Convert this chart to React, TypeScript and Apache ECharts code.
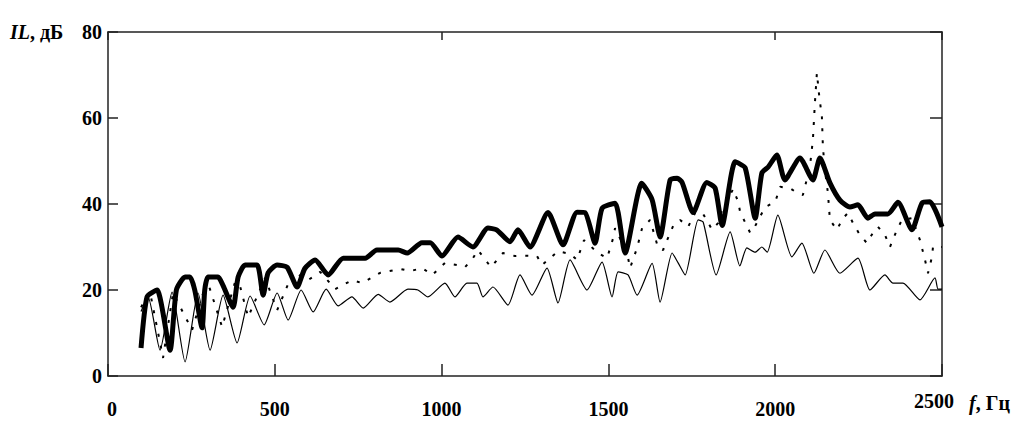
import React, { useEffect, useRef } from "react";
import * as echarts from "echarts";

// frequency (Hz), insertion loss (dB)
const thickSeries: [number, number][] = [
  [99, 6.5], [117, 18.4], [147, 20], [186, 6], [205, 20], [231, 23], [246, 23], [260, 20], [282, 11.2],
  [290, 20], [300, 23], [330, 23], [345, 21], [375, 16], [390, 23], [411, 25.8], [447, 25.8], [465, 18.8],
  [480, 24], [507, 25.8], [537, 25.3], [567, 20.7], [590, 25], [621, 27], [660, 23.5], [705, 27.4],
  [771, 27.4], [806, 29.3], [870, 29.3], [897, 28.6], [941, 31], [966, 31], [1001, 27.9], [1049, 32.3],
  [1094, 30], [1139, 34.4], [1165, 34], [1205, 31.2], [1229, 34], [1265, 30], [1319, 38], [1364, 30.5],
  [1406, 38.1], [1430, 38], [1460, 30.9], [1481, 39], [1520, 40.2], [1550, 28.6], [1600, 44.8],
  [1631, 41], [1655, 32.3], [1685, 45.6], [1706, 46], [1721, 45], [1754, 38], [1795, 45], [1820, 43.7],
  [1841, 35], [1880, 49.8], [1910, 48.4], [1940, 36.7], [1960, 47.2], [1979, 48.6], [2005, 51.4],
  [2029, 45.6], [2074, 50.7], [2113, 45.6], [2134, 50.7], [2164, 44.9], [2194, 40.9], [2224, 39.3],
  [2248, 39.8], [2278, 36.7], [2299, 37.7], [2338, 37.7], [2368, 40.4], [2410, 34], [2440, 40.2],
  [2464, 40.5], [2500, 34.7],
];

const dottedSeries: [number, number][] = [
  [99, 16], [126, 19.5], [165, 4.2], [195, 19.3], [252, 10.7], [297, 22.3], [342, 11.4], [387, 23.5],
  [420, 13.7], [471, 22.8], [507, 15.3], [555, 24.2], [600, 22.3], [636, 24.2], [681, 20.2], [732, 22.3],
  [762, 21.6], [816, 24], [876, 24.9], [906, 24.4], [942, 25.1], [972, 23.5], [1010, 26.3], [1046, 25.8],
  [1070, 25.3], [1094, 27.4], [1109, 29.3], [1148, 25.3], [1184, 28.6], [1220, 27.9], [1244, 28],
  [1286, 27.9], [1301, 25.8], [1325, 27.4], [1349, 29], [1385, 28.4], [1406, 27], [1427, 31.6],
  [1469, 28.6], [1496, 27.4], [1514, 32], [1520, 34.4], [1556, 28.6], [1565, 25.1], [1586, 29.8],
  [1601, 34.4], [1625, 36.3], [1649, 29.8], [1664, 29.3], [1676, 31.6], [1694, 34.9], [1715, 36.3],
  [1739, 34.7], [1760, 37.9], [1781, 38.1], [1811, 34], [1829, 35.6], [1841, 38.6], [1874, 43.5],
  [1889, 40.5], [1895, 38.1], [1925, 33.3], [1940, 34.9], [1970, 39.3], [2000, 40.5], [2015, 44],
  [2044, 43.7], [2065, 42.6], [2083, 42.1], [2104, 48.6], [2113, 54.9], [2119, 63.5], [2125, 70.5],
  [2131, 65.8], [2140, 60.2], [2143, 53.3], [2149, 47.9], [2158, 42.6], [2164, 36.3], [2185, 34],
  [2203, 36.7], [2218, 37.9], [2233, 35.6], [2254, 32.8], [2275, 30.9], [2293, 33.3], [2308, 34.7],
  [2329, 32.8], [2344, 30], [2365, 34], [2380, 36.3], [2410, 36.7], [2434, 31.6], [2449, 27],
  [2458, 23.9], [2470, 27.7], [2473, 30], [2500, 30],
];

const thinSeries: [number, number][] = [
  [99, 15], [120, 18.4], [156, 6], [192, 19.5], [231, 3.3], [270, 19.3], [306, 6], [345, 18.8],
  [387, 7.7], [426, 18.6], [468, 11.9], [507, 19.3], [540, 13], [579, 20], [615, 14.9], [654, 20.2],
  [690, 16.3], [731, 18.4], [765, 15.8], [810, 19], [845, 17.2], [899, 20.2], [929, 20], [959, 18.4],
  [1010, 21.6], [1040, 18.4], [1076, 21.6], [1106, 21.6], [1124, 18.4], [1154, 20.7], [1199, 16.5],
  [1235, 23.5], [1271, 18.8], [1316, 25.1], [1349, 17], [1385, 27], [1436, 20], [1481, 26.5],
  [1511, 18.4], [1529, 24.2], [1559, 23.5], [1586, 18.8], [1631, 26.2], [1655, 17.2], [1691, 28.6],
  [1709, 26.3], [1730, 23.5], [1769, 36.3], [1784, 35.8], [1823, 23.5], [1865, 33.5], [1894, 25.6],
  [1915, 29.8], [1940, 28.8], [1960, 30], [1976, 28.8], [2008, 37.4], [2050, 27.7], [2080, 30.9],
  [2116, 23.9], [2149, 29.3], [2194, 23.9], [2248, 27.4], [2284, 20], [2329, 23.5], [2353, 21.6],
  [2383, 21.6], [2434, 17.7], [2479, 22.8], [2488, 20.2], [2500, 20.2],
];

const xTicks = [0, 500, 1000, 1500, 2000, 2500];
const yTicks = [0, 20, 40, 60, 80];
const yTitleItalic = "IL";
const yTitleRest = ", дБ";
const xTitleItalic = "f";
const xTitleRest = ", Гц";

const FONT = '"Liberation Serif", "Times New Roman", serif';
const FS = 20;

export default function App() {
  const ref = useRef<HTMLDivElement>(null);
  useEffect(() => {
    if (!ref.current) return;
    const chart = echarts.init(ref.current, null, { renderer: "svg" });
    const axisColor = "#222";
    const labelStyle = {
      fontFamily: FONT,
      fontWeight: "bold" as const,
      fontSize: FS,
      color: "#000",
    };
    const tok = { fontFamily: FONT, fontWeight: "bold" as const, fontSize: FS, color: "#000" };
    chart.setOption({
      animation: false,
      backgroundColor: "#fff",
      grid: { left: 108, right: 82, top: 32, bottom: 57 },
      xAxis: [
        {
          type: "value",
          position: "bottom",
          min: xTicks[0],
          max: xTicks[xTicks.length - 1],
          interval: 500,
          axisLine: { show: true, onZero: false, lineStyle: { color: axisColor, width: 1.5 } },
          axisTick: { show: true, inside: true, length: 12, lineStyle: { color: axisColor, width: 1.5 } },
          splitLine: { show: false },
          axisLabel: {
            ...labelStyle,
            margin: 33,
            verticalAlign: "middle",
            formatter: (v: number) =>
              v === 2500 ? `{e|${v}}\n{s| }` : v === 0 ? `{z|${v}}` : `{n|${v}}`,
            rich: {
              n: { ...tok },
              z: { ...tok, padding: [0, 0, 0, 8] },
              e: { ...tok, padding: [0, 16, 0, 0] },
              s: { lineHeight: 16, fontSize: 10 },
            },
          },
        },
        {
          type: "value",
          position: "top",
          min: 0,
          max: 2500,
          interval: 1000,
          axisLine: { show: true, onZero: false, lineStyle: { color: axisColor, width: 1.5 } },
          axisTick: { show: true, inside: true, length: 8, lineStyle: { color: axisColor, width: 1.5 } },
          axisLabel: { show: false },
          splitLine: { show: false },
        },
      ],
      yAxis: [
        {
          type: "value",
          position: "left",
          min: yTicks[0],
          max: yTicks[yTicks.length - 1],
          interval: 20,
          axisLine: { show: true, onZero: false, lineStyle: { color: axisColor, width: 1.5 } },
          axisTick: { show: true, inside: true, length: 10, lineStyle: { color: axisColor, width: 1.5 } },
          splitLine: { show: false },
          axisLabel: { ...labelStyle, margin: 6 },
        },
        {
          type: "value",
          position: "right",
          min: 0,
          max: 80,
          interval: 20,
          axisLine: { show: true, onZero: false, lineStyle: { color: axisColor, width: 1.5 } },
          axisTick: { show: true, inside: true, length: 12, lineStyle: { color: axisColor, width: 1.5 } },
          axisLabel: { show: false },
          splitLine: { show: false },
        },
      ],
      graphic: [
        {
          type: "text",
          x: 10,
          y: 32,
          style: {
            text: `{i|${yTitleItalic}}{b|${yTitleRest}}`,
            verticalAlign: "middle",
            rich: {
              i: { fontFamily: FONT, fontStyle: "italic", fontWeight: "bold", fontSize: FS, fill: "#000" },
              b: { fontFamily: FONT, fontWeight: "bold", fontSize: FS, fill: "#000" },
            },
          },
        },
        {
          type: "text",
          x: 969,
          y: 403,
          style: {
            text: `{i|${xTitleItalic}}{b|${xTitleRest}}`,
            verticalAlign: "middle",
            rich: {
              i: { fontFamily: FONT, fontStyle: "italic", fontWeight: "bold", fontSize: FS, fill: "#000" },
              b: { fontFamily: FONT, fontWeight: "bold", fontSize: FS, fill: "#000" },
            },
          },
        },
      ],
      series: [
        {
          type: "line",
          data: thinSeries,
          showSymbol: false,
          smooth: 0.2,
          lineStyle: { color: "#000", width: 1.2 },
        },
        {
          type: "line",
          data: dottedSeries,
          showSymbol: false,
          lineStyle: { color: "#000", width: 2, type: [3, 9] },
        },
        {
          type: "line",
          data: thickSeries,
          showSymbol: false,
          smooth: 0.2,
          lineStyle: { color: "#000", width: 5, join: "round" },
        },
      ],
    });
    return () => chart.dispose();
  }, []);
  return (
    <div
      ref={ref}
      style={{ position: "fixed", left: 0, top: 0, width: 1024, height: 433, background: "#fff" }}
    />
  );
}
